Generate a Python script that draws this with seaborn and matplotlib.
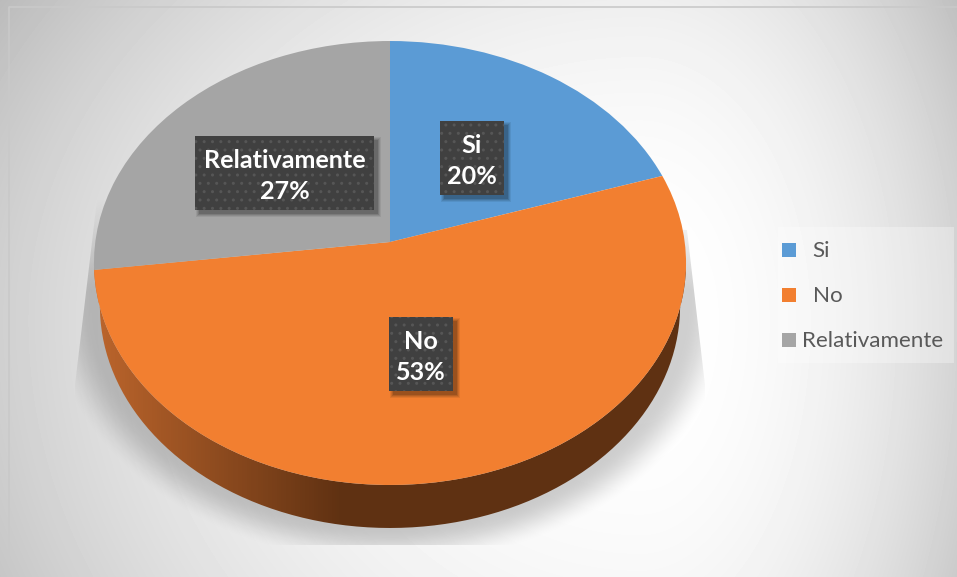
import numpy as np
import seaborn as sns
import matplotlib
matplotlib.use("Agg")
import matplotlib.pyplot as plt
from matplotlib.patches import Rectangle, Polygon, PathPatch
from matplotlib.path import Path
from matplotlib.transforms import Transform
from matplotlib.colors import LinearSegmentedColormap

categories = ["Si", "No", "Relativamente"]
values = [20, 53, 27]
colors = ["#5B9BD5", "#F27F30", "#A5A5A5"]

sns.set_theme(style="white")
plt.rcParams["font.family"] = ["Lato", "DejaVu Sans"]
plt.rcParams["hatch.linewidth"] = 1.0
palette = sns.color_palette(colors)

W, H = 957, 577
# pie in picture pixels: apex of the slices and perspective of the tilted disc
CX, CY = 390, 242
A, B, K = 294.7, 220, 0.0946
DEPTH = 43


class Tilt(Transform):
    input_dims = 2
    output_dims = 2
    is_separable = False

    def transform_non_affine(self, values):
        values = np.asarray(values, dtype=float)
        d = 1 + K * values[:, 1]
        return np.column_stack([CX + A * values[:, 0] / d, CY - B * values[:, 1] / d])


fig = plt.figure(figsize=(W / 100, H / 100), dpi=100)
ax = fig.add_axes([0, 0, 1, 1])

# background, white right of the pie and grey in the corners
yy, xx = np.mgrid[0:H, 0:W]
dx = (xx - 640) / np.where(xx > 640, 310.0, 600.0)
dy = (yy - 320) / np.where(yy > 320, 560.0, 480.0)
t = np.sqrt(dx ** 2 + dy ** 2)
bg = np.clip(255 - 41 * t ** 2.2, 0, 255) / 255.0
ax.imshow(bg, cmap="gray", vmin=0, vmax=1, extent=(0, W, H, 0), aspect="auto", zorder=0,
          clip_path=Rectangle((8.5, 6.5), W, H, transform=ax.transData))
ax.plot([8.5, 8.5, W], [H, 6.5, 6.5], color="#c9c9c9", lw=1.2, zorder=1)

# shadow of the pie on the floor
r = np.sqrt(((xx - 390) / 345.0) ** 2 + ((yy - 300) / 265.0) ** 2)
fade = np.clip((1.0 - r) / 0.14, 0, 1)
fade = fade * fade * (3 - 2 * fade) * np.clip((yy - 195) / 95.0, 0, 1)
shadow = np.zeros((H, W, 4))
shadow[..., 3] = 0.19 * fade
sh = ax.imshow(shadow, extent=(0, W, H, 0), aspect="auto", zorder=1)
sh.set_clip_path(Polygon([(97, 200), (75, 385), (75, 545), (705, 545), (705, 385), (687, 230)],
                         transform=ax.transData))

# side wall of the disc
theta = np.linspace(0, 2 * np.pi, 361)
rim = Tilt().transform(np.column_stack([np.cos(theta), np.sin(theta)]))
front = rim[rim[:, 1] >= 262]
front = front[np.argsort(front[:, 0])]
lower = front.copy()
lower[:, 0] = 390 + (lower[:, 0] - 390) * 0.98
lower[:, 1] += DEPTH
wall_path = Path(np.vstack([front, lower[::-1], front[:1]]))
wall_cmap = LinearSegmentedColormap.from_list(
    "wall", [(0, "#BC652C"), (0.42, "#5F3112"), (1, "#5F3112")])
wall = ax.imshow(np.linspace(0, 1, 592)[None, :], cmap=wall_cmap, vmin=0, vmax=1,
                 extent=(94, 686, 535, 255), aspect="auto", zorder=2)
wall.set_clip_path(PathPatch(wall_path, transform=ax.transData))

# top of the disc
wedges, _ = ax.pie(values, colors=palette, startangle=90, counterclock=False)
for w in wedges:
    w.set_transform(Tilt() + ax.transData)
    w.set_zorder(3)
    w.set_linewidth(0)

ax.set_aspect("auto")
ax.set_xlim(0, W)
ax.set_ylim(H, 0)
ax.axis("off")


def data_label(x0, y0, x1, y1, name, value):
    for grow, alpha in [(3, 0.07), (2, 0.09), (1, 0.11), (0, 0.14)]:
        ax.add_patch(Rectangle((x0 + 4 - grow, y0 + 4 - grow), x1 - x0 + 2 * grow, y1 - y0 + 2 * grow,
                               fc="black", ec="none", alpha=alpha, zorder=4))
    ax.add_patch(Rectangle((x0, y0), x1 - x0, y1 - y0, fc="#404040", ec="#565656",
                           hatch="..", lw=0, zorder=5))
    ax.text((x0 + x1) / 2, (y0 + y1) / 2 + 3, f"{name}\n{value}%", color="white", fontsize=18.1,
            fontweight="bold", ha="center", va="center", linespacing=1.42, zorder=6)


data_label(440, 121, 504, 195, categories[0], values[0])
data_label(389, 317, 453, 391, categories[1], values[1])
data_label(195, 136, 374, 210, categories[2], values[2])

# legend
ax.add_patch(Rectangle((778, 227), 176, 136, fc="white", ec="none", alpha=0.3, zorder=1))
for name, color, y, tx in zip(categories, palette, [250, 295, 340], [812, 813, 802]):
    ax.add_patch(Rectangle((782, y - 7), 14, 14, fc=color, ec="none", zorder=3))
    ax.text(tx, y + 1, name, color="#595959", fontsize=16.1, ha="left", va="center", zorder=3)

fig.savefig("out.png", dpi=100)
